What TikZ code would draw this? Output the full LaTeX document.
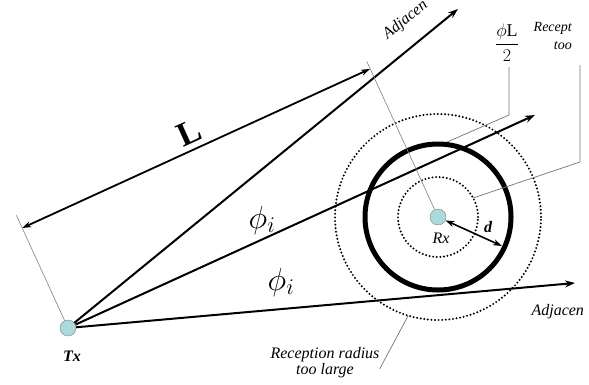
\RequirePackage{fix-cm}
\documentclass[tikz,border=0pt]{standalone}
\usepackage{amsmath}
\usepackage{fontspec}
\setmainfont{Liberation Serif}
\usepackage{tikz}
\usetikzlibrary{arrows.meta, positioning, calc}

\definecolor{stationfill}{RGB}{170,218,218}

\begin{document}
\begin{tikzpicture}[
    x=1pt, y=-1pt,
    beam/.style={-{Stealth[length=10pt, width=7pt]}, line width=2pt},
    dim/.style={{Stealth[length=9pt, width=6pt]}-{Stealth[length=9pt, width=6pt]}, line width=1.8pt},
    ext/.style={draw=gray, line width=0.6pt},
    leader/.style={draw=gray!90!black, line width=0.7pt},
    ring/.style={line width=2.2pt, dash pattern=on 0pt off 3.6pt, line cap=round},
    station/.style={draw=gray, circle, fill=stationfill, minimum size=16pt, inner sep=0pt},
    lab/.style={font=\fontsize{16}{16}\selectfont\itshape}
]
\useasboundingbox (0,0) rectangle (589,384);

% Stations
\node[station] (tx) at (68,328) {};
\node[station] (rx) at (438,217) {};
\node[below=11pt of tx, xshift=4pt, font=\fontsize{16}{16}\selectfont\bfseries\itshape] (txlab) {Tx};
\node[below=4pt of rx, xshift=3pt, font=\fontsize{16}{16}\selectfont\itshape] (rxlab) {Rx};

% Reception circles
\draw[line width=5pt] (rx) circle (73pt);
\draw[ring] (rx) circle (40pt);
\draw[ring] (rx) circle (103pt);

% Beams
\coordinate (adjTop) at (458,9);
\coordinate (main) at (535,115);
\coordinate (adjBot) at (575,283);
\draw[beam] (tx) -- (adjTop);
\draw[beam] (tx) -- (main);
\draw[beam] (tx) -- (adjBot);

% Distance L
\coordinate (extT) at (16.4,215.3);
\coordinate (extR) at (366.9,61.6);
\coordinate (dimA) at (22.2,228);
\coordinate (dimB) at (370,68.9);
\draw[ext] (tx) -- (extT);
\draw[ext] (rx) -- (extR);
\draw[dim] (dimA) -- (dimB);
\node[font=\fontsize{34}{36}\selectfont\bfseries, rotate=24.4] (Llab) at (189,133) {L};

% Radius d
\coordinate (dEnd) at (502,246);
\draw[dim, line width=1.6pt] (rx) -- (dEnd);
\node[font=\fontsize{16}{16}\selectfont\bfseries\itshape] (dlab) at (488,227) {d};

% Angles
\node[font=\fontsize{32}{34}\selectfont] (phiA) at (262,220) {$\phi_i$};
\node[font=\fontsize{32}{34}\selectfont] (phiB) at (281,282) {$\phi_i$};

% Labels and leaders
\node[lab, rotate=39.3, anchor=base west] (adjTopLab) at (385,42) {Adjacen};
\node[lab, anchor=base west] (adjBotLab) at (528,315) {Adjacen};

\node[font=\fontsize{18}{20}\selectfont, inner sep=1pt] (fracL) at (507,43) {$\dfrac{\phi\text{L}}{2}$};
\coordinate (thickPt) at (447,142);
\draw[leader] (509,67) -- (509,115) -- (thickPt);

\node[font=\fontsize{14}{18}\selectfont\itshape, align=right, anchor=north east, inner sep=0pt] (recept) at (572,22) {Recept\\too};
\coordinate (innerPt) at (473,198);
\draw[leader] (580,65) -- (580,162) -- (innerPt);

\node[lab, align=center, anchor=north, inner sep=0pt] (large) at (325,347) {Reception radius\\too large};
\coordinate (outerPt) at (408,316);
\draw[leader] (large.east |- 0,369) -- (outerPt);

\end{tikzpicture}
\end{document}
